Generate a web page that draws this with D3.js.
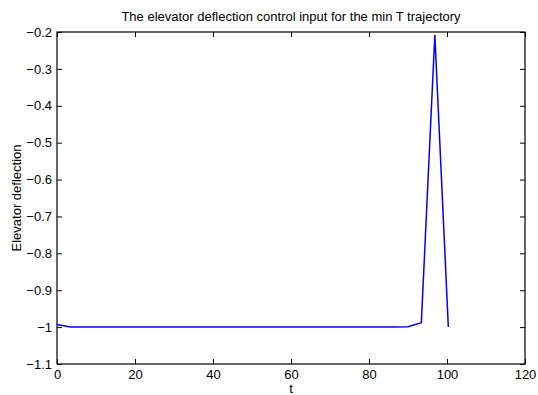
<!DOCTYPE html>
<html>
<head>
<meta charset="utf-8">
<script src="https://cdn.jsdelivr.net/npm/d3@7"></script>
<style>
  body { margin: 0; background: #fff; }
  svg text { font-family: "Liberation Sans", Arial, sans-serif; fill: #000; }
</style>
</head>
<body>
<div id="chart"></div>
<script>
// time samples (t) and elevator deflection
var tValues = [0, 3.46, 6.92, 10.38, 13.84, 17.30, 20.76, 24.22, 27.68, 31.14,
               34.60, 38.06, 41.52, 44.98, 48.44, 51.90, 55.36, 58.82, 62.28, 65.74,
               69.20, 72.66, 76.12, 79.58, 83.04, 86.50, 89.96, 93.42, 96.88, 100.34];
var deflection = [-0.993, -0.9995, -0.9998, -0.9998, -0.9998, -0.9998, -0.9998, -0.9998, -0.9998, -0.9998,
                  -0.9998, -0.9998, -0.9998, -0.9998, -0.9998, -0.9998, -0.9998, -0.9998, -0.9998, -0.9997,
                  -0.9997, -0.9997, -0.9996, -0.9996, -0.9995, -0.9995, -0.999, -0.988, -0.208, -0.9995];

var xTicks = [0, 20, 40, 60, 80, 100, 120];
var yTicks = [-1.1, -1, -0.9, -0.8, -0.7, -0.6, -0.5, -0.4, -0.3, -0.2];

var titleText = 'The elevator deflection control input for the min T trajectory';
var xLabel = 't';
var yLabel = 'Elevator deflection';

var W = 538, H = 395;
var margin = {top: 32, right: 13, bottom: 31, left: 57},
    width = W - margin.left - margin.right,
    height = H - margin.top - margin.bottom;

var svg = d3.select('#chart').append('svg')
    .attr('width', W)
    .attr('height', H);

var g = svg.append('g')
    .attr('transform', 'translate(' + margin.left + ',' + margin.top + ')');

var x = d3.scaleLinear().domain([0, 120]).range([0, width]);
var y = d3.scaleLinear().domain([-1.1, -0.2]).range([height, 0]);

function fmt(v) {
    return d3.format('~g')(+v.toFixed(2)).replace('-', '\u2212');
}

// bottom and left axes with labels, top and right with ticks only (inward)
var xAxis = d3.axisBottom(x).tickValues(xTicks).tickSizeInner(-5).tickSizeOuter(0).tickPadding(6).tickFormat(fmt);
var yAxis = d3.axisLeft(y).tickValues(yTicks).tickSizeInner(-5).tickSizeOuter(0).tickPadding(5).tickFormat(fmt);
var xAxisTop = d3.axisTop(x).tickValues(xTicks).tickSizeInner(-5).tickSizeOuter(0).tickFormat('');
var yAxisRight = d3.axisRight(y).tickValues(yTicks).tickSizeInner(-5).tickSizeOuter(0).tickFormat('');

g.append('g').attr('class', 'axis').attr('transform', 'translate(0,' + height + ')').call(xAxis);
g.append('g').attr('class', 'axis').call(yAxis);
g.append('g').attr('class', 'axis').call(xAxisTop);
g.append('g').attr('class', 'axis').attr('transform', 'translate(' + width + ',0)').call(yAxisRight);

g.selectAll('.axis text').style('font-size', '13px').style('font-family', '"Liberation Sans", Arial, sans-serif');
g.selectAll('.axis line').attr('stroke', '#000');
g.selectAll('.axis .domain').remove();

// axes box
g.append('rect')
    .attr('width', width)
    .attr('height', height)
    .attr('fill', 'none')
    .attr('stroke', '#000')
    .attr('stroke-width', 1.2);

var pts = d3.zip(tValues, deflection);
var line = d3.line()
    .x(function(d) { return x(d[0]); })
    .y(function(d) { return y(d[1]); });

g.append('path')
    .datum(pts)
    .attr('d', line)
    .attr('fill', 'none')
    .attr('stroke', '#0000ff')
    .attr('stroke-width', 1.5);

svg.append('text')
    .attr('x', margin.left + width / 2)
    .attr('y', 21)
    .attr('text-anchor', 'middle')
    .style('font-size', '13px')
    .text(titleText);

svg.append('text')
    .attr('x', margin.left + width / 2)
    .attr('y', 393)
    .attr('text-anchor', 'middle')
    .style('font-size', '13px')
    .text(xLabel);

svg.append('text')
    .attr('transform', 'translate(21,' + (margin.top + height / 2) + ') rotate(-90)')
    .attr('text-anchor', 'middle')
    .style('font-size', '13px')
    .text(yLabel);
</script>
</body>
</html>
